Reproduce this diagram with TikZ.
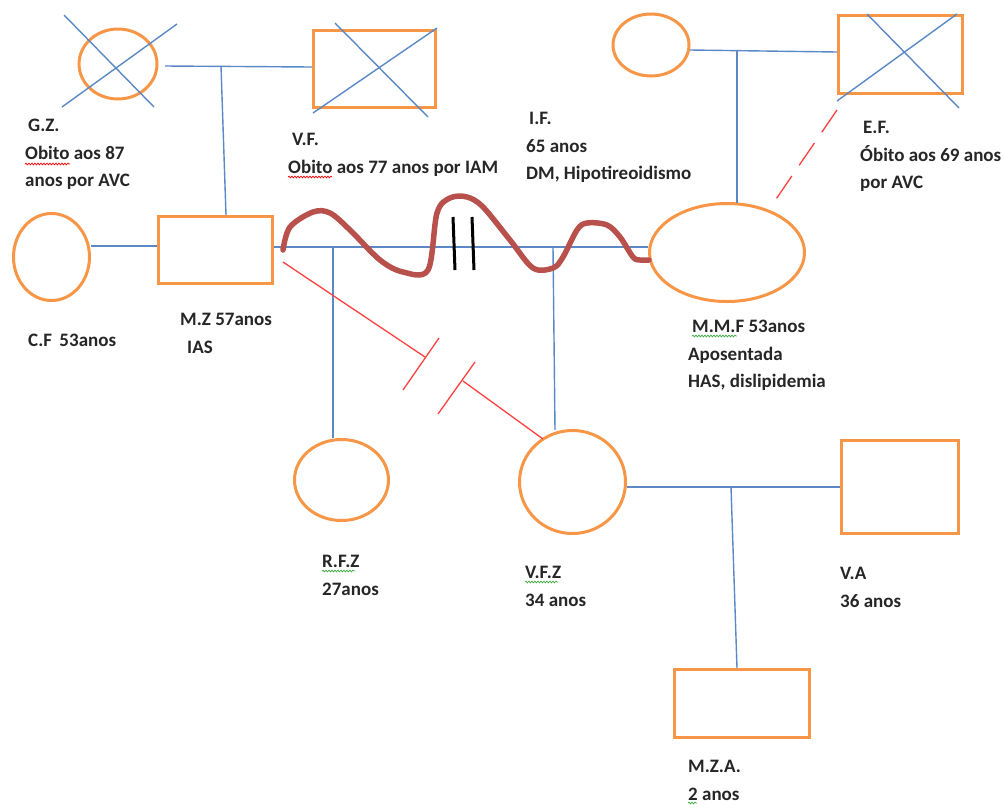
\documentclass[tikz,border=0pt]{standalone}
\usepackage{fontspec}
\setmainfont{Carlito}
\usetikzlibrary{shapes.geometric,decorations.pathmorphing}
\definecolor{gorange}{RGB}{247,150,70}
\definecolor{gblue}{RGB}{91,137,197}
\definecolor{gred}{RGB}{255,64,64}
\definecolor{gbrown}{RGB}{184,80,76}
\definecolor{sgreen}{RGB}{60,170,60}
\begin{document}
\begin{tikzpicture}[x=1pt,y=-1pt,
  fem/.style={draw=gorange,line width=3pt,ellipse,inner sep=0pt},
  mal/.style={draw=gorange,line width=3pt,rectangle,inner sep=0pt},
  bl/.style={draw=gblue,line width=1.4pt},
  rd/.style={draw=gred,line width=1.3pt},
  wave/.style={draw=gbrown,line width=5.5pt,line cap=round,line join=round},
  lbl/.style={anchor=north west,inner sep=0pt,align=left,font=\fontsize{19}{27.5}\selectfont\bfseries,text=black!85},
  spellr/.style={draw=red,line width=0.7pt,decorate,decoration={snake,amplitude=0.9pt,segment length=3pt}},
  spellg/.style={draw=sgreen,line width=0.7pt,decorate,decoration={snake,amplitude=0.9pt,segment length=3pt}}]
\useasboundingbox (0,0) rectangle (1004,807);

% --- shapes
\node[fem,minimum width=78,minimum height=70] (gz) at (118,64) {};
\node[mal,minimum width=122,minimum height=77] (vf) at (374.5,69) {};
\node[fem,minimum width=76,minimum height=62] (ifm) at (651,45) {};
\node[mal,minimum width=124,minimum height=78] (ef) at (900.5,54.5) {};
\node[fem,minimum width=76,minimum height=87] (cf) at (51.5,257) {};
\node[mal,minimum width=114,minimum height=67] (mz) at (215.5,250) {};
\node[fem,minimum width=155,minimum height=98] (mmf) at (727,252.5) {};
\node[fem,minimum width=94,minimum height=81] (rfz) at (341.5,480) {};
\node[fem,minimum width=106,minimum height=103] (vfz) at (572.5,482) {};
\node[mal,minimum width=117,minimum height=93] (va) at (900,487) {};
\node[mal,minimum width=135,minimum height=68] (mza) at (742,703.5) {};

% --- crosses (deceased)
\draw[bl] (64,15) -- (154,107);
\draw[bl] (177,24) -- (62,107);
\draw[bl] (335,23) -- (428,117);
\draw[bl] (437,28) -- (313,113);
\draw[bl] (867,14) -- (959,108);
\draw[bl] (957,14) -- (837,101);

% --- coordinates
\coordinate (gzr) at (165,66);
\coordinate (vfl) at (312,67);
\coordinate (j1) at (221,66);
\coordinate (mzt) at (226,215);
\coordinate (ifr) at (690,50);
\coordinate (efl) at (837,52);
\coordinate (j2) at (737,51);
\coordinate (mmt) at (737,203);
\coordinate (cfr) at (91,246);
\coordinate (mzl) at (157,246);
\coordinate (mzr) at (274,247);
\coordinate (mml) at (648,247);
\coordinate (j3) at (333,247);
\coordinate (rft) at (333,438);
\coordinate (j4) at (553,247);
\coordinate (vft) at (555,430);
\coordinate (vfr) at (627,487);
\coordinate (val) at (840,487);
\coordinate (j5) at (731,487);
\coordinate (mzat) at (737,668);
\coordinate (efb) at (837,110);
\coordinate (mmtr) at (772,205);

% --- blue connectors
\draw[bl] (gzr) -- (vfl);
\draw[bl] (j1) -- (mzt);
\draw[bl] (ifr) -- (efl);
\draw[bl] (j2) -- (mmt);
\draw[bl] (cfr) -- (mzl);
\draw[bl] (mzr) -- (mml);
\draw[bl] (j3) -- (rft);
\draw[bl] (j4) -- (vft);
\draw[bl] (vfr) -- (val);
\draw[bl] (j5) -- (mzat);

% --- red dashed (E.F. to M.M.F)
\draw[rd,dash pattern=on 27pt off 13pt] (efb) -- (mmtr);

% --- red cut-off line (M.Z to V.F.Z)
\coordinate (r1) at (283,262);
\coordinate (r2) at (425,357);
\coordinate (r3) at (463,381);
\coordinate (r4) at (543,439);
\draw[rd] (r1) -- (r2);
\draw[rd] (439,338) -- (403,390);
\draw[rd] (475,362) -- (438,414);
\draw[rd] (r3) -- (r4);

% --- wavy conflict line
\draw[wave] plot[smooth,tension=0.55] coordinates {(283,250) (290,227) (313,212) (330,213) (350,230) (380,260) (403,272) (428,270) (437,213) (450,198) (467,197) (483,207) (510,240) (533,268) (553,268) (563,257) (577,230) (587,223) (607,225) (620,237) (633,257) (640,260) (649,260)};
\draw[black,line width=3pt] (453,217) -- (455,270);
\draw[black,line width=3pt] (472,217) -- (474,270);

% --- labels
\node[lbl] (tgz) at (25,119) {\hspace{3pt}G.Z.\\Obito aos 87\\anos por AVC};
\node[lbl] (tvf) at (288,133) {\hspace{4pt}V.F.\\Obito aos 77 anos por IAM};
\node[lbl] (tif) at (526,112) {\hspace{3pt}I.F.\\65 anos\\DM, Hipotireoidismo};
\node[lbl] (tef) at (860,121) {\hspace{3pt}E.F.\\Óbito aos 69 anos\\por AVC};
\node[lbl] (tcf) at (28,334) {C.F\, 53anos};
\node[lbl] (tmz) at (180,313) {M.Z 57anos\\\hspace{7pt}IAS};
\node[lbl] (tmm) at (688,320) {\hspace{4pt}M.M.F 53anos\\Aposentada\\HAS, dislipidemia};
\node[lbl] (trf) at (322,555) {R.F.Z\\27anos};
\node[lbl] (tvz) at (525,566) {V.F.Z\\34 anos};
\node[lbl] (tva) at (840,567) {V.A\\36 anos};
\node[lbl] (tma) at (688,760) {M.Z.A.\\2 anos};

% --- spell-check underlines
\draw[spellr] (25,164) -- (70,164);
\draw[spellr] (288,177) -- (332,177);
\draw[spellg] (692,336) -- (737,336);
\draw[spellg] (322,571) -- (355,571);
\draw[spellg] (525,582) -- (558,582);
\draw[spellg] (688,803) -- (697,803);
\end{tikzpicture}
\end{document}
